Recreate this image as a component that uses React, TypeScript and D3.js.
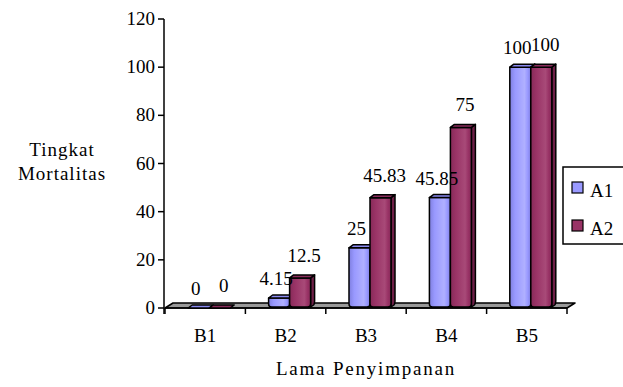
import React from 'react';
import * as d3 from 'd3';

const categories = ['B1', 'B2', 'B3', 'B4', 'B5'];
const seriesNames = ['A1', 'A2'];
const a1Values = [0, 4.15, 25, 45.85, 100];
const a2Values = [0, 12.5, 45.83, 75, 100];
const yTicks = [0, 20, 40, 60, 80, 100, 120];

const W = 623;
const H = 387;
const FONT = 'Liberation Serif';

const colors = [
  { front: '#9999ff', light: '#b0b0ff', dark: '#7f7fe0', side: '#6b6bc8', top: '#8a8af0' },
  { front: '#993366', light: '#a84a78', dark: '#862a58', side: '#6e1f47', top: '#8a2d5c' },
];

const T = (props: any) => <text {...props} fontFamily={FONT} fill="#000" />;

export default function App() {
  const y = d3.scaleLinear().domain([0, 120]).range([308, 19]);
  const x = d3.scaleBand<string>().domain(categories).range([165, 567]).padding(0);
  const bw = 21;
  const ddx = 4;
  const ddy = 3;
  const floorY = y(0);
  const series = [a1Values, a2Values];

  const bar = (left: number, v: number, s: number, key: string) => {
    const c = colors[s];
    const top = y(v);
    const bottom = floorY - 1;
    const r = Math.min(3, Math.max(0, bottom - top));
    const front = `M${left},${top} L${left + bw},${top} L${left + bw},${bottom - r} Q${left + bw},${bottom} ${left + bw - r},${bottom} L${left + r},${bottom} Q${left},${bottom} ${left},${bottom - r} Z`;
    const side = `M${left + bw},${top} L${left + bw + ddx},${top - ddy} L${left + bw + ddx},${bottom - ddy - r} Q${left + bw + ddx},${bottom - ddy} ${left + bw + ddx - 1},${bottom - ddy + 1} L${left + bw},${bottom} Z`;
    const topFace = `M${left},${top} L${left + bw},${top} L${left + bw + ddx},${top - ddy} L${left + ddx},${top - ddy} Z`;
    return (
      <g key={key}>
        {bottom - top > 0.5 && (
          <>
            <path d={side} fill={c.side} stroke="#000" strokeWidth={1.5} strokeLinejoin="round" />
            <path d={front} fill={`url(#grad${s})`} stroke="#000" strokeWidth={1.5} strokeLinejoin="round" />
          </>
        )}
        <path d={topFace} fill={c.top} stroke="#000" strokeWidth={1.5} strokeLinejoin="round" />
      </g>
    );
  };

  const fmt = (v: number) => String(v);

  return (
    <svg width={W} height={H} style={{ position: 'absolute', left: 0, top: 0, background: '#fff' }}>
      <defs>
        {colors.map((c, i) => (
          <linearGradient key={i} id={`grad${i}`} x1="0" x2="1" y1="0" y2="0">
            <stop offset="0" stopColor={c.dark} />
            <stop offset="0.25" stopColor={c.front} />
            <stop offset="0.7" stopColor={c.light} />
            <stop offset="0.85" stopColor={c.front} />
            <stop offset="1" stopColor={c.dark} />
          </linearGradient>
        ))}
      </defs>

      <path
        d={`M165,${floorY} L567,${floorY} L${567 + 8},${floorY - 5} L${165 + 8},${floorY - 5} Z`}
        fill="#999999"
        stroke="#000"
        strokeWidth={1.5}
        strokeLinejoin="round"
      />

      <line x1={164} x2={164} y1={y(120)} y2={floorY + 6} stroke="#000" strokeWidth={1.5} />
      {yTicks.map((t) => (
        <g key={t}>
          <line x1={158} x2={164} y1={y(t)} y2={y(t)} stroke="#000" strokeWidth={1.5} />
          <T x={155} y={y(t) + 6} textAnchor="end" fontSize={19}>
            {t}
          </T>
        </g>
      ))}

      {categories.concat(['end']).map((c, i) => {
        const xx = 165 + i * x.bandwidth();
        return <line key={c} x1={xx} x2={xx} y1={floorY} y2={floorY + 6} stroke="#000" strokeWidth={1.5} />;
      })}
      <line x1={165} x2={567} y1={floorY} y2={floorY} stroke="#000" strokeWidth={1.5} />

      {categories.map((cat, i) => {
        const x0 = (x(cat) as number) + (x.bandwidth() - 2 * bw) / 2 + 4;
        return <g key={cat}>{series.map((vals, s) => bar(x0 + s * bw, vals[i], s, `${cat}-${s}`))}</g>;
      })}

      {categories.map((cat, i) => {
        const x0 = (x(cat) as number) + (x.bandwidth() - 2 * bw) / 2 + 4;
        return (
          <g key={`l${cat}`}>
            <T x={x0 + bw / 2 - 3} y={y(a1Values[i]) - 13} textAnchor="middle" fontSize={19}>
              {fmt(a1Values[i])}
            </T>
            <T x={x0 + bw + bw / 2 + 4} y={y(a2Values[i]) - 16} textAnchor="middle" fontSize={19}>
              {fmt(a2Values[i])}
            </T>
          </g>
        );
      })}

      {categories.map((cat) => (
        <T key={`c${cat}`} x={(x(cat) as number) + x.bandwidth() / 2} y={342} textAnchor="middle" fontSize={19}>
          {cat}
        </T>
      ))}

      <T x={366} y={375} textAnchor="middle" fontSize={19} letterSpacing={1.8}>
        Lama Penyimpanan
      </T>
      <T x={62} y={156} textAnchor="middle" fontSize={19} letterSpacing={1}>
        Tingkat
      </T>
      <T x={62} y={180} textAnchor="middle" fontSize={19} letterSpacing={1}>
        Mortalitas
      </T>

      <rect x={563} y={167} width={80} height={77} fill="#fff" stroke="#000" strokeWidth={1.5} />
      {seriesNames.map((n, i) => (
        <g key={n}>
          <rect x={572} y={182 + i * 38} width={11} height={11} fill={colors[i].front} stroke="#000" strokeWidth={1.2} />
          <T x={590} y={197 + i * 38} fontSize={19}>
            {n}
          </T>
        </g>
      ))}
    </svg>
  );
}
